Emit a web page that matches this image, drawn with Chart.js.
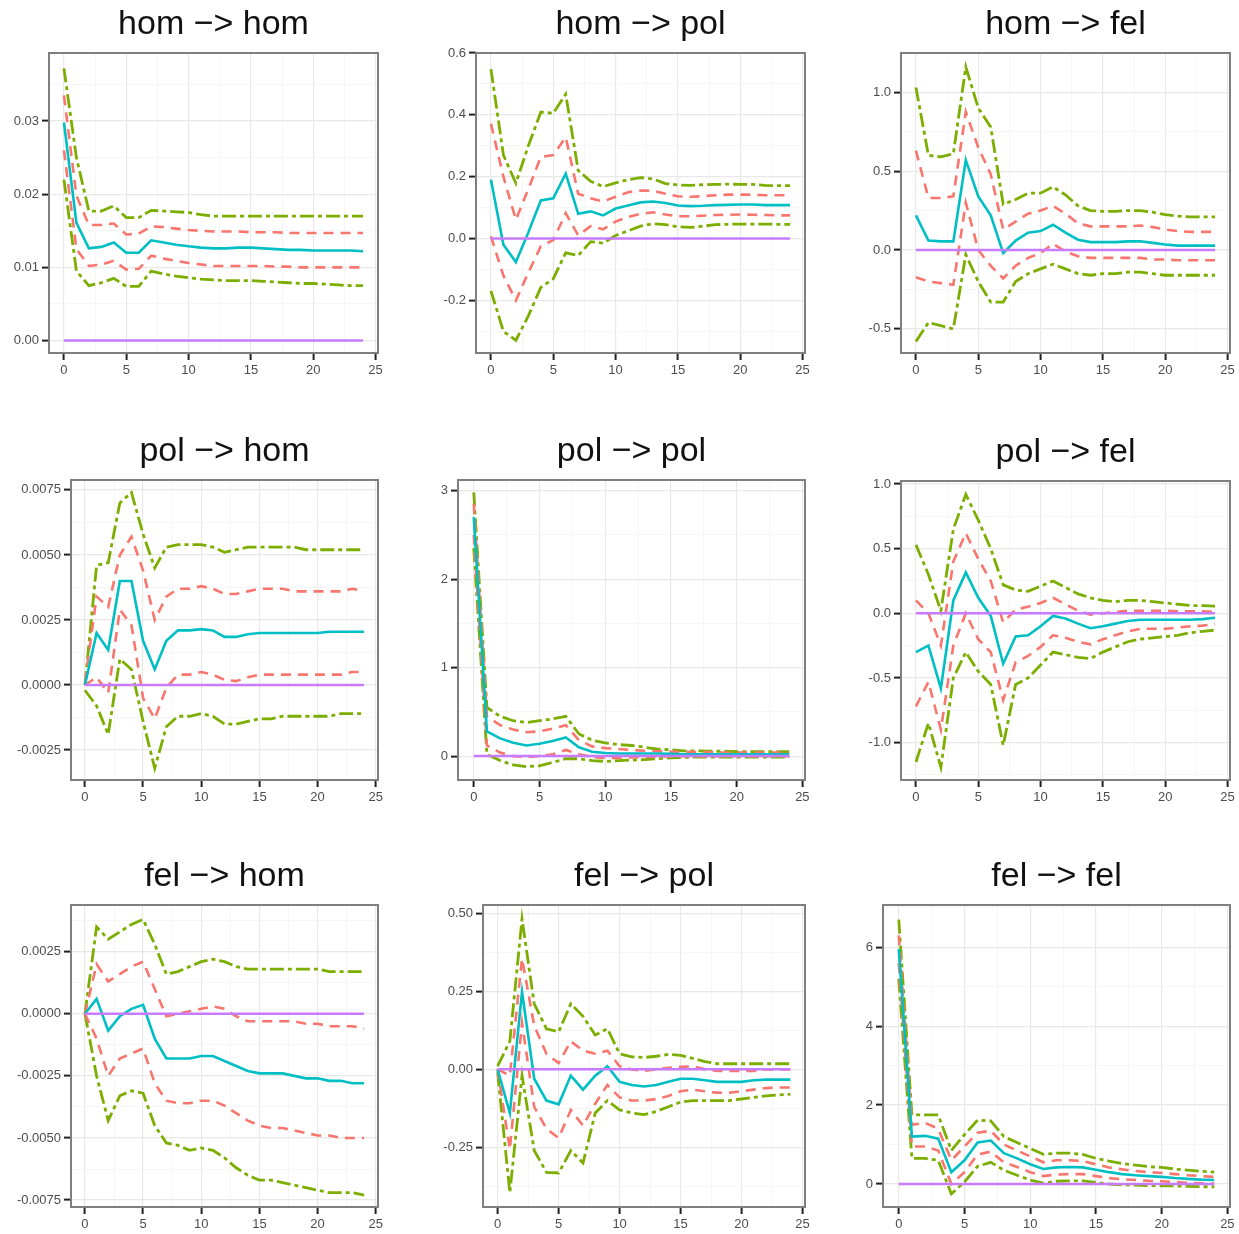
<!DOCTYPE html>
<html>
<head>
<meta charset="utf-8">
<script src="https://cdn.jsdelivr.net/npm/chart.js@4.4.1/dist/chart.umd.min.js"></script>
<style>
body { margin: 0; background: #fff; }
#wrap { position: relative; width: 1239px; height: 1234px; overflow: hidden; }
canvas { position: absolute; }
</style>
</head>
<body>
<div id="wrap"></div>
<script>
// horizon steps
const steps = [0,1,2,3,4,5,6,7,8,9,10,11,12,13,14,15,16,17,18,19,20,21,22,23,24];
const xTicks = [0, 5, 10, 15, 20, 25];

const titles = ['hom −> hom', 'hom −> pol', 'hom −> fel',
                'pol −> hom', 'pol −> pol', 'pol −> fel',
                'fel −> hom', 'fel −> pol', 'fel −> fel'];

// each panel: [outer lower, inner lower, irf, inner upper, outer upper]
const homHom = [
  [0.0220,0.0095,0.0075,0.0079,0.0085,0.0074,0.0074,0.0095,0.0091,0.0088,0.0086,0.0084,0.0083,0.0082,0.0082,0.0082,0.0081,0.0080,0.0079,0.0078,0.0078,0.0077,0.0076,0.0075,0.0075],
  [0.0260,0.0125,0.0102,0.0104,0.0109,0.0097,0.0098,0.0116,0.0112,0.0109,0.0106,0.0104,0.0102,0.0102,0.0102,0.0102,0.0102,0.0101,0.0101,0.0100,0.0100,0.0100,0.0100,0.0100,0.0100],
  [0.0298,0.0161,0.0126,0.0128,0.0134,0.0120,0.0120,0.0137,0.0134,0.0131,0.0129,0.0127,0.0126,0.0126,0.0127,0.0127,0.0126,0.0125,0.0124,0.0124,0.0123,0.0123,0.0123,0.0123,0.0122],
  [0.0335,0.0198,0.0158,0.0158,0.0160,0.0145,0.0146,0.0156,0.0155,0.0153,0.0151,0.0150,0.0149,0.0149,0.0149,0.0148,0.0148,0.0148,0.0147,0.0147,0.0147,0.0147,0.0147,0.0147,0.0147],
  [0.0372,0.0250,0.0177,0.0177,0.0184,0.0168,0.0168,0.0178,0.0177,0.0176,0.0175,0.0172,0.0170,0.0170,0.0170,0.0170,0.0170,0.0170,0.0170,0.0170,0.0170,0.0170,0.0170,0.0170,0.0170]
];
const homPol = [
  [-0.169,-0.30,-0.329,-0.25,-0.158,-0.13,-0.046,-0.055,-0.01,-0.015,0.01,0.025,0.04,0.048,0.045,0.038,0.036,0.04,0.045,0.046,0.047,0.047,0.047,0.046,0.046],
  [0.007,-0.12,-0.20,-0.11,-0.025,-0.005,0.082,0.01,0.04,0.03,0.055,0.07,0.08,0.085,0.078,0.072,0.072,0.074,0.076,0.077,0.078,0.077,0.076,0.075,0.075],
  [0.19,-0.02,-0.076,0.02,0.123,0.13,0.21,0.08,0.088,0.075,0.097,0.107,0.117,0.12,0.115,0.107,0.105,0.106,0.108,0.109,0.11,0.11,0.108,0.108,0.108],
  [0.371,0.20,0.061,0.16,0.264,0.27,0.328,0.145,0.13,0.12,0.135,0.15,0.155,0.155,0.145,0.137,0.135,0.137,0.14,0.142,0.142,0.142,0.14,0.14,0.14],
  [0.548,0.27,0.179,0.30,0.409,0.405,0.467,0.22,0.185,0.168,0.18,0.19,0.197,0.193,0.178,0.173,0.172,0.174,0.175,0.176,0.175,0.175,0.172,0.171,0.171]
];
const homFel = [
  [-0.58,-0.46,-0.48,-0.50,-0.03,-0.20,-0.33,-0.33,-0.20,-0.15,-0.12,-0.09,-0.12,-0.15,-0.16,-0.15,-0.15,-0.14,-0.14,-0.15,-0.16,-0.16,-0.16,-0.16,-0.16],
  [-0.173,-0.20,-0.21,-0.22,0.30,0.0,-0.10,-0.18,-0.10,-0.05,-0.02,0.04,-0.01,-0.04,-0.05,-0.05,-0.05,-0.05,-0.05,-0.06,-0.06,-0.065,-0.065,-0.065,-0.065],
  [0.22,0.06,0.055,0.055,0.57,0.34,0.22,-0.02,0.06,0.11,0.12,0.16,0.11,0.065,0.05,0.05,0.05,0.055,0.055,0.045,0.035,0.028,0.028,0.028,0.028],
  [0.63,0.33,0.33,0.34,0.875,0.65,0.48,0.13,0.18,0.23,0.25,0.28,0.23,0.17,0.15,0.15,0.15,0.15,0.155,0.145,0.13,0.12,0.115,0.115,0.115],
  [1.03,0.60,0.59,0.61,1.16,0.90,0.78,0.29,0.32,0.36,0.36,0.40,0.35,0.28,0.25,0.245,0.245,0.25,0.25,0.24,0.225,0.215,0.21,0.21,0.21]
];
const polHom = [
  [-0.0002,-0.0008,-0.0019,0.0010,0.0006,-0.0014,-0.0032,-0.0016,-0.0012,-0.0012,-0.0011,-0.0012,-0.0015,-0.0015,-0.0014,-0.0013,-0.0013,-0.0012,-0.0012,-0.0012,-0.0012,-0.0012,-0.0011,-0.0011,-0.0011],
  [0.0000,0.0003,-0.0003,0.0029,0.0023,-0.0005,-0.0013,-0.0001,0.0004,0.0004,0.0005,0.0004,0.0002,0.00015,0.0003,0.0004,0.0004,0.0004,0.0004,0.0004,0.0004,0.0004,0.0004,0.0005,0.0005],
  [0.0000,0.0020,0.00135,0.0040,0.0040,0.0017,0.0006,0.0017,0.0021,0.0021,0.00215,0.0021,0.00185,0.00185,0.00195,0.0020,0.0020,0.0020,0.0020,0.0020,0.0020,0.00205,0.00205,0.00205,0.00205],
  [0.0001,0.0034,0.0030,0.0050,0.0057,0.0044,0.0025,0.0034,0.0037,0.0037,0.0038,0.0037,0.0035,0.0035,0.0036,0.0037,0.0037,0.0037,0.0036,0.0036,0.0036,0.0036,0.0036,0.0037,0.0036],
  [0.0000,0.0046,0.0047,0.0070,0.0074,0.0058,0.0045,0.0053,0.0054,0.0054,0.0054,0.0053,0.0051,0.0052,0.0053,0.0053,0.0053,0.0053,0.0053,0.0052,0.0052,0.0052,0.0052,0.0052,0.0052]
];
const polPol = [
  [2.35,0.02,-0.05,-0.10,-0.12,-0.11,-0.07,-0.03,-0.03,-0.05,-0.06,-0.05,-0.045,-0.04,-0.03,-0.02,-0.015,-0.01,-0.01,-0.01,-0.01,-0.01,-0.01,-0.01,-0.01],
  [2.50,0.12,0.04,0.0,-0.01,0.0,0.02,0.07,0.02,-0.01,-0.02,-0.02,-0.015,-0.01,-0.005,0.0,0.0,0.0,0.0,0.0,0.0,0.0,0.0,0.0,0.0],
  [2.70,0.28,0.20,0.15,0.12,0.14,0.17,0.21,0.10,0.05,0.035,0.03,0.03,0.03,0.03,0.025,0.02,0.02,0.02,0.02,0.02,0.02,0.02,0.02,0.02],
  [2.85,0.45,0.35,0.30,0.27,0.28,0.31,0.35,0.18,0.11,0.09,0.08,0.07,0.06,0.055,0.05,0.05,0.045,0.045,0.04,0.04,0.04,0.04,0.04,0.04],
  [2.98,0.55,0.45,0.40,0.38,0.40,0.42,0.45,0.25,0.18,0.15,0.13,0.12,0.10,0.08,0.07,0.06,0.06,0.055,0.055,0.05,0.05,0.05,0.05,0.05]
];
const polFel = [
  [-1.15,-0.85,-1.19,-0.50,-0.30,-0.45,-0.55,-1.02,-0.55,-0.50,-0.40,-0.30,-0.32,-0.34,-0.35,-0.30,-0.26,-0.22,-0.20,-0.19,-0.18,-0.17,-0.15,-0.14,-0.13],
  [-0.72,-0.53,-0.90,-0.25,0.0,-0.20,-0.30,-0.67,-0.38,-0.33,-0.26,-0.17,-0.19,-0.22,-0.24,-0.20,-0.17,-0.14,-0.12,-0.12,-0.12,-0.11,-0.10,-0.095,-0.085],
  [-0.30,-0.25,-0.58,0.10,0.316,0.12,-0.02,-0.39,-0.18,-0.17,-0.10,-0.02,-0.04,-0.08,-0.115,-0.10,-0.08,-0.06,-0.05,-0.05,-0.05,-0.05,-0.05,-0.045,-0.035],
  [0.10,0.0,-0.25,0.40,0.62,0.42,0.25,-0.07,0.03,0.05,0.08,0.12,0.07,0.02,-0.01,0.0,0.01,0.02,0.02,0.02,0.02,0.015,0.015,0.015,0.01],
  [0.53,0.30,0.02,0.65,0.92,0.72,0.50,0.22,0.18,0.17,0.21,0.25,0.20,0.15,0.12,0.10,0.09,0.10,0.10,0.09,0.08,0.07,0.06,0.06,0.055]
];
const felHom = [
  [0.0,-0.0025,-0.0043,-0.0033,-0.0031,-0.0032,-0.0045,-0.0052,-0.0053,-0.0055,-0.0054,-0.0055,-0.0058,-0.0062,-0.0065,-0.0067,-0.0067,-0.0068,-0.0069,-0.0070,-0.0071,-0.0072,-0.0072,-0.0072,-0.0073],
  [0.0,-0.0010,-0.0025,-0.0018,-0.0016,-0.0014,-0.0028,-0.0035,-0.0036,-0.0036,-0.0035,-0.0035,-0.0037,-0.0040,-0.0043,-0.0045,-0.0046,-0.0046,-0.0047,-0.0048,-0.0049,-0.0049,-0.0050,-0.0050,-0.0050],
  [0.0,0.0006,-0.00068,-0.0001,0.0002,0.00036,-0.0010,-0.0018,-0.0018,-0.0018,-0.0017,-0.0017,-0.0019,-0.0021,-0.0023,-0.0024,-0.0024,-0.0024,-0.0025,-0.0026,-0.0026,-0.0027,-0.0027,-0.0028,-0.0028],
  [0.0,0.0020,0.0013,0.0016,0.0019,0.0021,0.0010,-0.0001,0.0,0.0001,0.0002,0.0003,0.0002,-0.0001,-0.0003,-0.0003,-0.0003,-0.0003,-0.0003,-0.0004,-0.0004,-0.0005,-0.0005,-0.0005,-0.0006],
  [0.0,0.0035,0.0030,0.0033,0.0036,0.0038,0.0028,0.0016,0.0017,0.0019,0.0021,0.0022,0.0021,0.0019,0.0018,0.0018,0.0018,0.0018,0.0018,0.0018,0.0018,0.0017,0.0017,0.0017,0.0017]
];
const felPol = [
  [-0.01,-0.395,-0.02,-0.26,-0.33,-0.332,-0.26,-0.30,-0.14,-0.10,-0.13,-0.14,-0.145,-0.135,-0.12,-0.105,-0.10,-0.10,-0.10,-0.10,-0.095,-0.09,-0.085,-0.082,-0.08],
  [0.0,-0.257,0.15,-0.12,-0.19,-0.22,-0.13,-0.18,-0.11,-0.05,-0.09,-0.10,-0.10,-0.095,-0.085,-0.07,-0.065,-0.07,-0.075,-0.075,-0.07,-0.065,-0.06,-0.058,-0.058],
  [0.0,-0.14,0.248,-0.03,-0.10,-0.112,-0.02,-0.065,-0.02,0.01,-0.04,-0.05,-0.055,-0.05,-0.04,-0.03,-0.03,-0.035,-0.04,-0.04,-0.04,-0.035,-0.033,-0.033,-0.033],
  [0.0,-0.02,0.355,0.14,0.05,0.02,0.09,0.06,0.05,0.06,0.01,0.0,-0.005,0.0,0.005,0.008,0.01,0.0,-0.005,-0.005,-0.005,-0.005,0.0,0.0,0.0],
  [0.01,0.09,0.482,0.21,0.13,0.12,0.21,0.17,0.11,0.13,0.05,0.04,0.038,0.042,0.048,0.045,0.035,0.025,0.018,0.018,0.018,0.018,0.018,0.018,0.018]
];
const felFel = [
  [5.20,0.65,0.65,0.60,-0.25,0.05,0.45,0.55,0.35,0.22,0.10,0.02,0.07,0.08,0.08,0.04,0.0,-0.02,-0.03,-0.04,-0.05,-0.05,-0.06,-0.07,-0.07],
  [5.60,0.95,0.95,0.85,0.0,0.30,0.75,0.82,0.55,0.43,0.30,0.20,0.24,0.25,0.25,0.20,0.15,0.12,0.10,0.08,0.07,0.05,0.03,0.02,0.01],
  [5.95,1.20,1.22,1.15,0.30,0.60,1.05,1.10,0.78,0.65,0.50,0.38,0.42,0.43,0.42,0.36,0.30,0.25,0.22,0.20,0.18,0.15,0.13,0.11,0.10],
  [6.30,1.50,1.55,1.40,0.60,0.95,1.30,1.35,1.00,0.85,0.70,0.55,0.60,0.60,0.58,0.50,0.42,0.37,0.33,0.30,0.28,0.25,0.22,0.20,0.18],
  [6.70,1.75,1.75,1.75,0.85,1.25,1.62,1.60,1.20,1.05,0.90,0.75,0.78,0.78,0.75,0.65,0.58,0.52,0.48,0.44,0.42,0.38,0.35,0.32,0.30]
];
const zeroLine = [0,0,0,0,0,0,0,0,0,0,0,0,0,0,0,0,0,0,0,0,0,0,0,0,0];

const panelData = [homHom, homPol, homFel, polHom, polPol, polFel, felHom, felPol, felFel];

// y axis ticks and limits per panel
const yTicks = [
  [0, 0.01, 0.02, 0.03], [-0.2, 0, 0.2, 0.4, 0.6], [-0.5, 0, 0.5, 1.0],
  [-0.0025, 0, 0.0025, 0.005, 0.0075], [0, 1, 2, 3], [-1.0, -0.5, 0, 0.5, 1.0],
  [-0.0075, -0.005, -0.0025, 0, 0.0025], [-0.25, 0, 0.25, 0.5], [0, 2, 4, 6]
];
const yDecimals = [2, 1, 1, 4, 0, 1, 4, 2, 0];
const yMin = [-0.0017, -0.37, -0.653, -0.00365, -0.27, -1.289, -0.00778, -0.441, -0.583];
const yMax = [0.0393, 0.60, 1.249, 0.00788, 3.12, 1.023, 0.00438, 0.5266, 7.07];

// layout: [canvasLeft, canvasWidth, plotLeft, plotRight, plotTop, plotHeight]
const boxes = [
  [0, 410, 49, 378, 53, 300], [410, 410, 476, 805, 53, 300], [820, 419, 901, 1230, 53, 300],
  [0, 410, 71, 378, 480, 300], [410, 410, 458, 805, 480, 300], [820, 419, 901, 1230, 481, 299],
  [0, 410, 71, 378, 905, 302], [410, 410, 483, 805, 905, 302], [820, 419, 883, 1230, 905, 302]
];

const GREEN = '#7cae00', RED = '#f8766d', CYAN = '#00bfc4', PURPLE = '#c77cff';

// major ticks plus the minor gridline positions halfway between them
function withMinor(majors, min, max) {
  const step = majors[1] - majors[0];
  const last = (majors.length - 1) * 2;
  const out = [];
  for (let k = -2; k <= last + 2; k++) {
    const isMajor = k % 2 === 0 && k >= 0 && k <= last;
    const v = isMajor ? majors[k / 2] : Math.round((majors[0] + k * step / 2) * 1e9) / 1e9;
    if (v < min - 1e-12 || v > max + 1e-12) continue;
    out.push({ value: v, major: isMajor });
  }
  return out;
}

const frame = {
  id: 'frame',
  afterDraw(chart) {
    const a = chart.chartArea, c = chart.ctx;
    c.save();
    c.strokeStyle = '#7f7f7f';
    c.lineWidth = 2;
    c.strokeRect(a.left, a.top, a.right - a.left, a.bottom - a.top);
    c.restore();
  }
};

const gridOpts = {
  color: c => (c.tick && c.tick.major) ? '#e8e8e8' : '#f4f4f4',
  lineWidth: c => (c.tick && c.tick.major) ? 1.2 : 0.8,
  tickColor: c => (c.tick && c.tick.major) ? '#222' : 'rgba(0,0,0,0)',
  tickWidth: 2,
  tickLength: 7
};
const tickFont = { family: '"Liberation Sans", Arial, sans-serif', size: 13 };

const wrap = document.getElementById('wrap');

panelData.forEach((series, i) => {
  const [cl, cw, pl, pr, pt, ph] = boxes[i];
  const xAxisH = 30;
  const canvas = document.createElement('canvas');
  canvas.width = cw;
  canvas.height = 53 + ph + xAxisH;
  canvas.style.left = cl + 'px';
  canvas.style.top = (pt - 53) + 'px';
  wrap.appendChild(canvas);

  const line = (data, color, dash, width) => ({
    data: data.map((v, j) => ({ x: steps[j], y: v })),
    parsing: false,
    borderColor: color, borderWidth: width, borderDash: dash,
    pointRadius: 0, fill: false, tension: 0
  });

  new Chart(canvas.getContext('2d'), {
    type: 'line',
    data: {
      labels: steps,
      datasets: [
        line(zeroLine, PURPLE, [], 2.5),
        line(series[2], CYAN, [], 2.6),
        line(series[1], RED, [10, 7], 2.6),
        line(series[3], RED, [10, 7], 2.6),
        line(series[0], GREEN, [14, 4, 4, 4], 2.8),
        line(series[4], GREEN, [14, 4, 4, 4], 2.8)
      ]
    },
    options: {
      responsive: false,
      animation: false,
      layout: { padding: { left: 0, right: cl + cw - pr, top: 0, bottom: 0 } },
      plugins: {
        legend: { display: false },
        tooltip: { enabled: false },
        title: {
          display: true,
          text: titles[i],
          fullSize: false,
          color: '#111',
          font: { family: '"Liberation Sans", Arial, sans-serif', size: 34, weight: 'normal', lineHeight: 1.2 },
          padding: { top: 4, bottom: 8.2 }
        }
      },
      scales: {
        x: {
          type: 'linear',
          min: -1.2,
          max: 25.2,
          afterBuildTicks: ax => { ax.ticks = withMinor(xTicks, -1.2, 25.2); },
          afterFit: ax => { ax.height = xAxisH; },
          ticks: {
            autoSkip: false, maxRotation: 0, color: '#4d4d4d', font: tickFont, padding: 3,
            callback: (v, idx, t) => t[idx].major ? String(v) : ''
          },
          grid: gridOpts,
          border: { display: false }
        },
        y: {
          type: 'linear',
          min: yMin[i],
          max: yMax[i],
          afterBuildTicks: ax => { ax.ticks = withMinor(yTicks[i], yMin[i], yMax[i]); },
          afterFit: ax => { ax.width = pl - cl; },
          ticks: {
            autoSkip: false, color: '#4d4d4d', font: tickFont, padding: 3,
            callback: (v, idx, t) => t[idx].major ? (v === 0 ? 0 : v).toFixed(yDecimals[i]) : ''
          },
          grid: gridOpts,
          border: { display: false }
        }
      }
    },
    plugins: [frame]
  });
});
</script>
</body>
</html>
